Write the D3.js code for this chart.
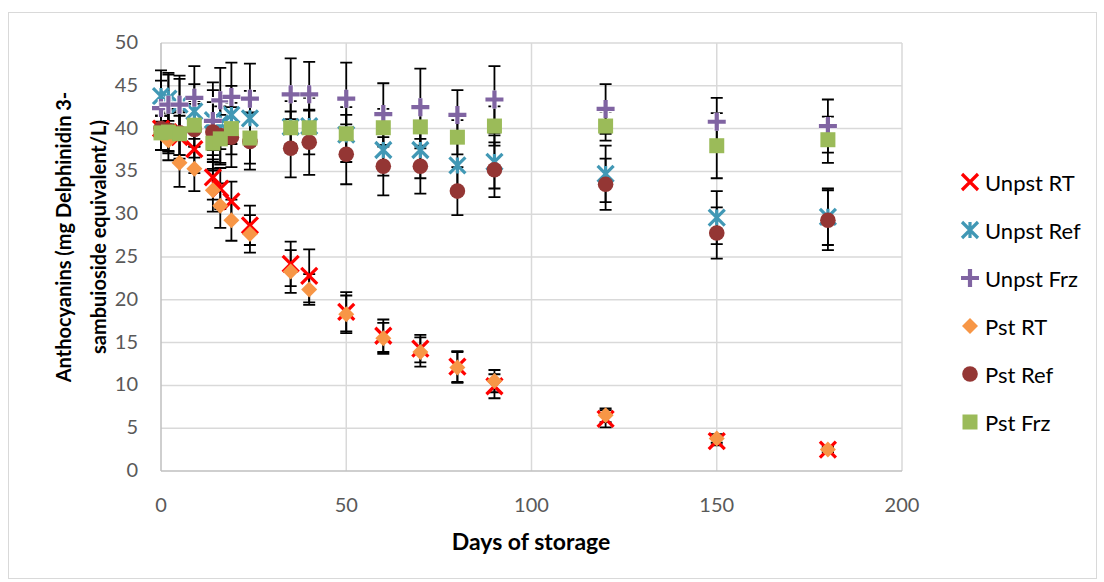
<!DOCTYPE html>
<html>
<head>
<meta charset="utf-8">
<script src="https://cdn.jsdelivr.net/npm/d3@7"></script>
<style>
  body { margin: 0; background: #fff; }
  text { font-family: Lato, 'Open Sans', sans-serif; }
</style>
</head>
<body>
<svg id="chart" width="1104" height="582"></svg>
<script>
'use strict'

// storage days (x)
var days = [0, 2, 5, 9, 14, 16, 19, 24, 35, 40, 50, 60, 70, 80, 90, 120, 150, 180]

// anthocyanin values + std errors
var unpstRT = [40.0, 39.6, 39.0, 37.6, 34.3, 33.0, 31.5, 28.7, 24.2, 22.8, 18.6, 15.8, 14.3, 12.2, 9.9, 6.1, 3.5, 2.5]
var unpstRTErr = [2.5, 2.5, 2.5, 2.8, 2.6, 2.4, 2.3, 2.3, 2.6, 3.1, 2.3, 1.9, 1.6, 1.8, 1.4, 1.0, 0.5, 0.3]
var unpstRef = [43.8, 43.5, 42.8, 42.0, 41.0, 40.6, 41.6, 41.2, 40.2, 40.3, 39.3, 37.5, 37.5, 35.7, 36.1, 34.7, 29.6, 29.7]
var unpstRefErr = [3.0, 3.0, 3.0, 3.2, 3.5, 3.0, 3.4, 3.2, 3.0, 3.3, 3.2, 3.0, 3.3, 2.8, 3.1, 3.3, 3.1, 3.3]
var unpstFrz = [42.4, 42.8, 42.8, 43.6, 40.9, 43.3, 43.7, 43.5, 44.0, 44.0, 43.5, 41.7, 42.5, 41.6, 43.4, 42.3, 40.8, 40.3]
var unpstFrzErr = [3.2, 3.5, 3.4, 3.7, 4.5, 3.8, 4.0, 4.1, 4.2, 3.8, 4.2, 3.6, 4.5, 2.9, 3.9, 2.9, 2.8, 3.1]
var pstRT = [39.5, 38.6, 36.0, 35.3, 32.8, 31.0, 29.3, 27.7, 23.3, 21.2, 18.3, 15.5, 13.9, 12.1, 10.5, 6.5, 3.8, 2.5]
var pstRTErr = [2.0, 2.3, 2.8, 2.6, 2.5, 2.6, 2.4, 2.2, 2.5, 1.8, 2.2, 1.8, 1.7, 1.8, 1.3, 0.8, 0.5, 0.3]
var pstRef = [40.0, 39.8, 39.5, 39.9, 39.6, 39.2, 39.0, 38.5, 37.7, 38.4, 37.0, 35.6, 35.6, 32.7, 35.2, 33.5, 27.8, 29.3]
var pstRefErr = [2.5, 2.5, 2.6, 3.3, 3.5, 3.4, 3.5, 3.3, 3.4, 3.8, 3.5, 3.4, 3.2, 2.8, 3.2, 3.0, 3.0, 3.5]
var pstFrz = [39.5, 39.6, 39.4, 40.4, 38.3, 38.8, 40.0, 38.9, 40.1, 40.1, 39.4, 40.1, 40.2, 39.0, 40.3, 40.3, 38.0, 38.7]
var pstFrzErr = [2.0, 2.2, 2.5, 2.5, 3.2, 2.8, 3.0, 3.0, 1.9, 2.0, 2.2, 2.2, 2.5, 2.0, 2.3, 1.7, 3.8, 2.7]

var xTicks = [0, 50, 100, 150, 200]
var yTicks = [0, 5, 10, 15, 20, 25, 30, 35, 40, 45, 50]

var series = [
  { name: 'Unpst RT', values: unpstRT, err: unpstRTErr, color: '#ff0000', shape: 'x' },
  { name: 'Unpst Ref', values: unpstRef, err: unpstRefErr, color: '#4198b5', shape: 'star' },
  { name: 'Unpst Frz', values: unpstFrz, err: unpstFrzErr, color: '#8064a2', shape: 'plus' },
  { name: 'Pst RT', values: pstRT, err: pstRTErr, color: '#f79646', shape: 'diamond' },
  { name: 'Pst Ref', values: pstRef, err: pstRefErr, color: '#943634', shape: 'circle' },
  { name: 'Pst Frz', values: pstFrz, err: pstFrzErr, color: '#9bbb59', shape: 'square' }
]

var svg = d3.select('#chart')
var margin = { left: 161, top: 43, right: 902, bottom: 471 }

var x = d3.scaleLinear().domain([0, 200]).range([margin.left, margin.right])
var y = d3.scaleLinear().domain([0, 50]).range([margin.bottom, margin.top])

// outer chart frame
svg.append('rect')
  .attr('x', 8.5).attr('y', 12.5)
  .attr('width', 1088).attr('height', 566)
  .attr('fill', 'none').attr('stroke', '#d9d9d9')

// gridlines
svg.append('g')
  .selectAll('line')
  .data(yTicks.filter((d) => d > 0))
  .enter().append('line')
    .attr('x1', margin.left).attr('x2', margin.right)
    .attr('y1', (d) => y(d)).attr('y2', (d) => y(d))
    .attr('stroke', '#d9d9d9').attr('stroke-width', 1.5)

svg.append('g')
  .selectAll('line')
  .data(xTicks.filter((d) => d > 0))
  .enter().append('line')
    .attr('x1', (d) => x(d)).attr('x2', (d) => x(d))
    .attr('y1', margin.top).attr('y2', margin.bottom)
    .attr('stroke', '#d9d9d9').attr('stroke-width', 1.5)

// axes lines
svg.append('line')
  .attr('x1', margin.left).attr('x2', margin.left)
  .attr('y1', margin.top).attr('y2', margin.bottom)
  .attr('stroke', '#bfbfbf').attr('stroke-width', 1.5)
svg.append('line')
  .attr('x1', margin.left).attr('x2', margin.right)
  .attr('y1', margin.bottom).attr('y2', margin.bottom)
  .attr('stroke', '#bfbfbf').attr('stroke-width', 1.5)

// tick labels
svg.append('g')
  .selectAll('text')
  .data(yTicks)
  .enter().append('text')
    .attr('x', 138)
    .attr('y', (d) => y(d) - 2)
    .attr('text-anchor', 'end')
    .attr('dominant-baseline', 'central')
    .attr('font-size', 20)
    .attr('fill', '#595959')
    .text((d) => d)

svg.append('g')
  .selectAll('text')
  .data(xTicks)
  .enter().append('text')
    .attr('x', (d) => x(d))
    .attr('y', 504)
    .attr('text-anchor', 'middle')
    .attr('dominant-baseline', 'central')
    .attr('font-size', 20)
    .attr('fill', '#595959')
    .text((d) => d)

// axis titles
svg.append('text')
  .attr('x', 531).attr('y', 550)
  .attr('text-anchor', 'middle')
  .attr('font-size', 23)
  .attr('font-weight', 'bold')
  .attr('fill', '#000')
  .text('Days of storage')

var yTitle = svg.append('text')
  .attr('transform', 'translate(0,237) rotate(-90)')
  .attr('text-anchor', 'middle')
  .attr('font-size', 20)
  .attr('font-weight', 'bold')
  .attr('fill', '#000')
yTitle.append('tspan').attr('x', 0).attr('y', 71).text('Anthocyanins (mg Delphinidin 3-')
yTitle.append('tspan').attr('x', 0).attr('y', 106).text('sambuioside equivalent/L)')

// marker drawing
function drawMarker (g, shape, color) {
  var s = 8
  if (shape === 'x') {
    g.append('path')
      .attr('d', `M${-s},${-s}L${s},${s}M${-s},${s}L${s},${-s}`)
      .attr('stroke', color).attr('stroke-width', 3.2).attr('fill', 'none')
  } else if (shape === 'star') {
    var p = `M${-s},${-s}L${s},${s}M${-s},${s}L${s},${-s}M0,${-s}L0,${s}`
    g.append('path').attr('d', p)
      .attr('stroke', color).attr('stroke-width', 3.2).attr('fill', 'none')
  } else if (shape === 'plus') {
    var q = `M${-s - 1},0L${s + 1},0M0,${-s - 1}L0,${s + 1}`
    g.append('path').attr('d', q)
      .attr('stroke', '#fff').attr('stroke-width', 6.5).attr('fill', 'none')
    g.append('path').attr('d', q)
      .attr('stroke', color).attr('stroke-width', 4.2).attr('fill', 'none')
  } else if (shape === 'diamond') {
    g.append('path')
      .attr('d', 'M0,-8L8,0L0,8L-8,0Z')
      .attr('fill', color)
  } else if (shape === 'circle') {
    g.append('circle').attr('r', 7.8).attr('fill', color)
  } else if (shape === 'square') {
    g.append('rect')
      .attr('x', -7.5).attr('y', -7.5)
      .attr('width', 15).attr('height', 15)
      .attr('fill', color)
  }
}

// error bars first, behind every marker
var errG = svg.append('g')
series.forEach((ser) => {
  days.forEach((day, i) => {
    var cx = x(day)
    var lo = y(ser.values[i] - ser.err[i])
    var hi = y(ser.values[i] + ser.err[i])
    errG.append('path')
      .attr('d', `M${cx},${lo}L${cx},${hi}M${cx - 6},${lo}L${cx + 6},${lo}M${cx - 6},${hi}L${cx + 6},${hi}`)
      .attr('stroke', '#000').attr('stroke-width', 1.8).attr('fill', 'none')
  })
})

// markers, series order as in the legend
series.forEach((ser) => {
  var sg = svg.append('g').attr('class', 'series')
  days.forEach((day, i) => {
    var mg = sg.append('g')
      .attr('transform', `translate(${x(day)},${y(ser.values[i])})`)
    drawMarker(mg, ser.shape, ser.color)
  })
})

// legend
var legend = svg.append('g')
series.forEach((ser, i) => {
  var ly = 182 + i * 48
  var mg = legend.append('g').attr('transform', `translate(970,${ly})`)
  drawMarker(mg, ser.shape, ser.color)
  legend.append('text')
    .attr('x', 985).attr('y', ly)
    .attr('dominant-baseline', 'central')
    .attr('font-size', 22)
    .attr('fill', '#000')
    .text(ser.name)
})
</script>
</body>
</html>
